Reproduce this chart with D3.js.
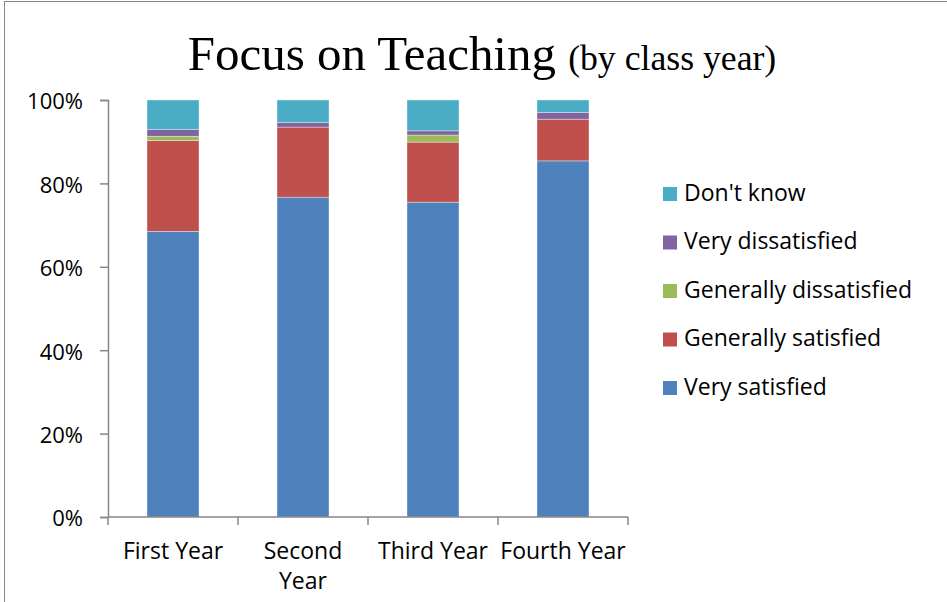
<!DOCTYPE html>
<html lang="en">
	<head>
		<meta charset="utf-8">
		<title>Focus on Teaching</title>
		<script src="https://d3js.org/d3.v7.min.js"></script>
		<style type="text/css">
		body { margin: 0; background: #fff; }
		text { font-family: "Open Sans", Lato, sans-serif; fill: #000; font-variant-ligatures: none; }
		</style>
	</head>
	<body>
		<script type="text/javascript">

		// data, in percent of each class year
		var years = ["First Year", "Second Year", "Third Year", "Fourth Year"];
		var yearLines = [["First Year"], ["Second", "Year"], ["Third Year"], ["Fourth Year"]];
		var series = ["Very satisfied", "Generally satisfied", "Generally dissatisfied", "Very dissatisfied", "Don't know"];
		var verySatisfied = [68.5, 76.7, 75.5, 85.4];
		var generallySatisfied = [21.8, 16.8, 14.4, 10.0];
		var generallyDissatisfied = [1.0, 0.0, 1.7, 0.0];
		var veryDissatisfied = [1.6, 1.1, 1.0, 1.6];
		var dontKnow = [7.1, 5.4, 7.4, 3.0];
		var colors = ["#4F81BD", "#C0504D", "#9BBB59", "#8064A2", "#4BACC6"];
		var yTicks = [0, 20, 40, 60, 80, 100];

		var w = 947, h = 602;
		var plotLeft = 108, plotRight = 628, plotTop = 100, plotBottom = 517;

		var rows = years.map(function(y, i) {
			return {
				year: y,
				"Very satisfied": verySatisfied[i],
				"Generally satisfied": generallySatisfied[i],
				"Generally dissatisfied": generallyDissatisfied[i],
				"Very dissatisfied": veryDissatisfied[i],
				"Don't know": dontKnow[i]
			};
		});

		var stacked = d3.stack().keys(series)(rows);

		var x = d3.scaleBand().domain(years).range([plotLeft, plotRight]).paddingInner(0.6).paddingOuter(0.3);
		var y = d3.scaleLinear().domain([0, 100]).range([plotBottom, plotTop]);
		var color = d3.scaleOrdinal().domain(series).range(colors);

		var svg = d3.select("body").append("svg")
			.attr("width", w)
			.attr("height", h);

		// outer chart border
		svg.append("rect")
			.attr("x", 4.5).attr("y", 1.5)
			.attr("width", w + 10).attr("height", h + 10)
			.attr("fill", "none")
			.attr("stroke", "#888").attr("stroke-width", 1);

		// title
		var title = svg.append("text")
			.attr("text-anchor", "middle")
			.attr("transform", "translate(482,70) scale(1.02,1)")
			.style("font-family", "'Liberation Serif', 'DejaVu Serif', serif");
		title.append("tspan").style("font-size", "48px").text("Focus on Teaching ");
		title.append("tspan").style("font-size", "35px").text("(by class year)");

		// bars
		svg.selectAll("g.layer")
			.data(stacked)
			.enter().append("g")
			.attr("class", "layer")
			.attr("fill", function(d) { return color(d.key); })
			.selectAll("rect")
			.data(function(d) { return d; })
			.enter().append("rect")
			.attr("x", function(d) { return x(d.data.year); })
			.attr("y", function(d) { return y(d[1]); })
			.attr("width", x.bandwidth())
			.attr("height", function(d) { return y(d[0]) - y(d[1]); })
			.attr("stroke", "#fff")
			.attr("stroke-opacity", 0.5)
			.attr("stroke-width", 0.7);

		// y axis
		var yAxis = svg.append("g")
			.attr("transform", "translate(" + plotLeft + ",0)")
			.call(d3.axisLeft(y).tickValues(yTicks).tickSize(8).tickPadding(17)
				.tickFormat(function(d) { return d + "%"; }));

		// x axis with ticks between categories
		var xAxis = svg.append("g")
			.attr("transform", "translate(0," + plotBottom + ")");
		xAxis.append("line")
			.attr("x1", plotLeft).attr("x2", plotRight)
			.attr("y1", 0).attr("y2", 0);
		var step = x.step();
		xAxis.selectAll("line.tick")
			.data(d3.range(years.length + 1))
			.enter().append("line")
			.attr("class", "tick")
			.attr("x1", function(i) { return plotLeft + i * step; })
			.attr("x2", function(i) { return plotLeft + i * step; })
			.attr("y1", 0).attr("y2", 8);
		xAxis.selectAll("text")
			.data(years)
			.enter().append("text")
			.attr("text-anchor", "middle")
			.style("font-size", "23px")
			.attr("transform", function(d) { return "translate(" + (x(d) + x.bandwidth() / 2) + ",0)"; })
			.selectAll("tspan")
			.data(function(d, i) { return yearLines[i]; })
			.enter().append("tspan")
			.attr("x", 0)
			.attr("y", function(d, j) { return 42 + j * 30; })
			.text(function(d) { return d; });

		svg.selectAll("line").attr("stroke", "#868686").attr("stroke-width", 1.5);
		yAxis.select(".domain").attr("stroke", "#868686").attr("stroke-width", 1.5);
		yAxis.selectAll(".tick line").attr("stroke", "#868686").attr("stroke-width", 1.5);
		yAxis.selectAll("text").style("font-size", "22px").attr("fill", "#000").attr("dy", "0.4em");

		// legend
		var legendSeries = series.slice().reverse();
		var legend = svg.selectAll("g.legend")
			.data(legendSeries)
			.enter().append("g")
			.attr("class", "legend")
			.attr("transform", function(d, i) { return "translate(663," + (193 + i * 48.5) + ")"; });
		legend.append("rect")
			.attr("x", 0).attr("y", -6)
			.attr("width", 14).attr("height", 14)
			.attr("fill", function(d) { return color(d); });
		legend.append("text")
			.attr("x", 21).attr("y", 7.5)
			.style("font-size", "23px")
			.text(function(d) { return d; });

		</script>
	</body>
</html>
